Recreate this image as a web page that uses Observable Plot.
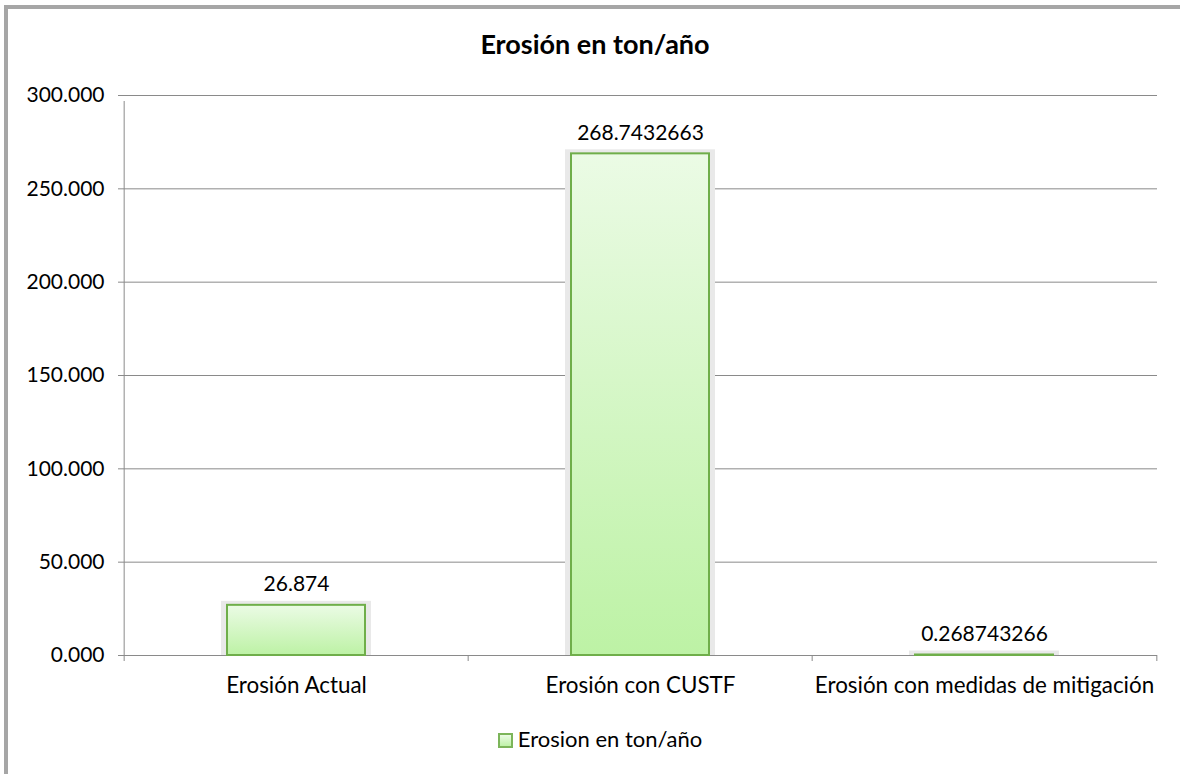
<!DOCTYPE html>
<html>
<head>
<meta charset="utf-8">
<script src="https://cdn.jsdelivr.net/npm/d3@7"></script>
<script src="https://cdn.jsdelivr.net/npm/@observablehq/plot@0.6"></script>
<style>
  html, body { margin: 0; padding: 0; background: #fff; overflow: hidden; }
  body { width: 1180px; height: 774px; position: relative; font-family: Lato, "Open Sans", sans-serif; color: #000; }
  #frame { position: absolute; left: 4px; top: 5px; width: 4px; height: 769px; background: #a6a6a6; }
  #frameTop { position: absolute; left: 4px; top: 5px; width: 1176px; height: 4px; background: #a6a6a6; }
  #title { position: absolute; top: 27px; left: 0; width: 1190px; text-align: center; font-weight: bold; font-size: 27px; }
  #chart { position: absolute; left: 0; top: 70px; }
  #legend { position: absolute; top: 725px; left: 0; width: 1200px; text-align: center; font-size: 22px; }
  #legend .sw { display: inline-block; width: 11px; height: 11px; border: 2px solid #7cb55a; background: linear-gradient(#eafbe4, #bff2a8); vertical-align: -1px; margin-right: 5px; }
</style>
</head>
<body>
<div id="frame"></div>
<div id="frameTop"></div>
<div id="title">Erosión en ton/año</div>
<div id="chart"></div>
<div id="legend"><span class="sw"></span>Erosion en ton/año</div>
<script>
const categories = ["Erosión Actual", "Erosión con CUSTF", "Erosión con medidas de mitigación"];
const values = [26.874, 268.7432663, 0.268743266];
const valueLabels = ["26.874", "268.7432663", "0.268743266"];
const yTicks = [0, 50, 100, 150, 200, 250, 300];

const data = categories.map((c, i) => ({cat: c, value: values[i], label: valueLabels[i]}));

const W = 1180, H = 630, mL = 123, mR = 23, mT = 25, mB = 45;
const step = (W - mL - mR) / categories.length;
const gridColor = "#8a8a8a";
const fontSize = 21;

const defs = () => {
  const ns = "http://www.w3.org/2000/svg";
  const g = document.createElementNS(ns, "defs");
  g.innerHTML = `<linearGradient id="barGrad" x1="0" y1="0" x2="0" y2="1">
      <stop offset="0" stop-color="#ebfbe5"/>
      <stop offset="1" stop-color="#bdf2a5"/>
    </linearGradient>`;
  return g;
};

const chart = Plot.plot({
  width: W, height: H,
  marginLeft: mL, marginRight: mR, marginTop: mT, marginBottom: mB,
  style: {fontFamily: "Lato, 'Open Sans', sans-serif", fontSize: fontSize + "px", color: "#000", background: "transparent", overflow: "visible"},
  x: {domain: categories, paddingInner: 0.6, paddingOuter: 0.3, label: null},
  y: {domain: [0, 300], label: null},
  marks: [
    defs,
    Plot.ruleY(yTicks, {stroke: gridColor, strokeWidth: 1}),
    Plot.ruleX(categories.slice(0, 1), {x: d => d, dx: -step / 2, y1: 0, y2: 300, stroke: gridColor, insetBottom: -6}),
    Plot.ruleX(categories, {x: d => d, dx: -step / 2, y1: 0, y2: 0, stroke: gridColor, insetBottom: -6}),
    Plot.ruleX(categories.slice(-1), {x: d => d, dx: step / 2, y1: 0, y2: 0, stroke: gridColor, insetBottom: -6}),
    Plot.axisY({ticks: yTicks, tickFormat: d3.format(".3f"), tickSize: 5, tickPadding: 14, stroke: gridColor, fontSize: fontSize, label: null}),
    Plot.axisX({tickSize: 0, tickPadding: 22, fontSize: 22.4, label: null}),
    Plot.barY(data, {x: "cat", y: "value", fill: "#e9e9e9", insetLeft: -6, insetRight: -6, insetTop: -4}),
    Plot.barY(data, {x: "cat", y: "value", fill: "url(#barGrad)", stroke: "#6fae4a", strokeWidth: 2}),
    Plot.text(data, {x: "cat", y: "value", text: "label", lineAnchor: "bottom", dy: -14, fontSize: fontSize, fill: "#000"})
  ]
});
document.getElementById("chart").appendChild(chart);
</script>
</body>
</html>
